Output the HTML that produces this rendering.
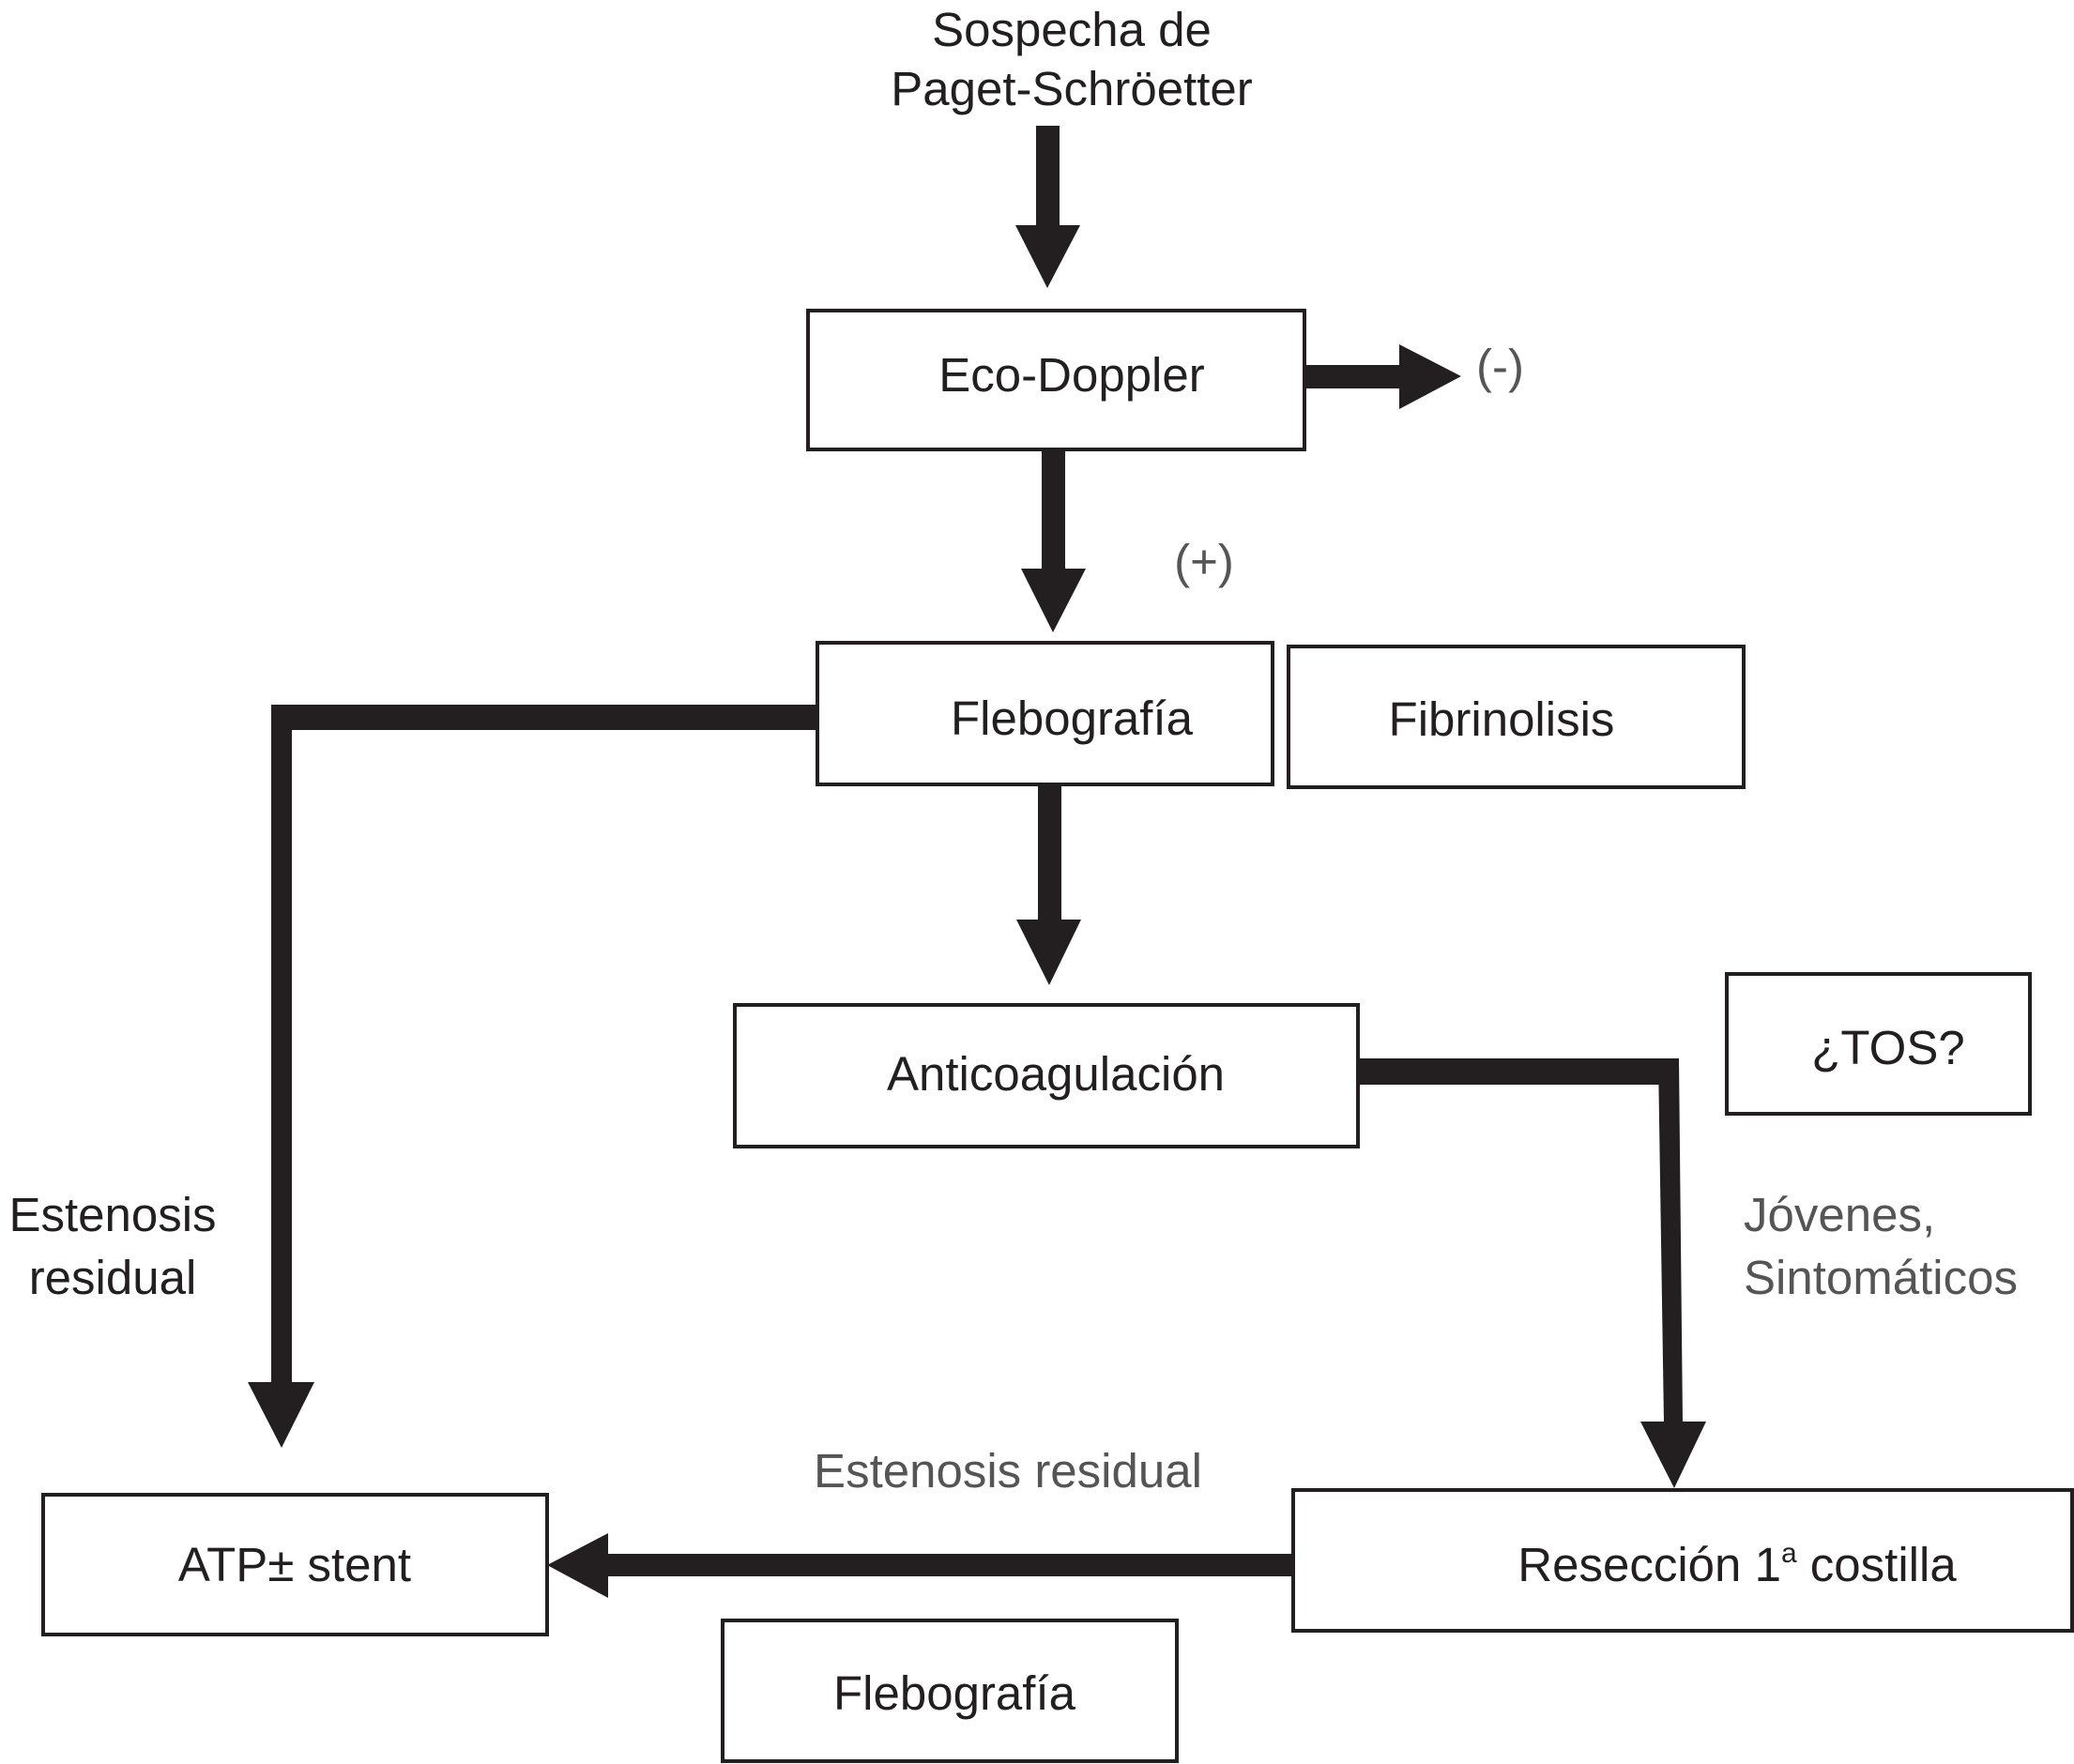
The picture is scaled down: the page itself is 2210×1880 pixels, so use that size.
<!DOCTYPE html>
<html><head><meta charset="utf-8"><style>
html,body{margin:0;padding:0;background:#fff;}
svg{display:block;}
text{font-family:"Liberation Sans",Arial,sans-serif;font-size:51px;}
</style></head><body>
<svg width="2210" height="1880" viewBox="0 0 2210 1880" xmlns="http://www.w3.org/2000/svg">
<g fill="#231f20" text-anchor="middle">
<text x="1142" y="49">Sospecha de</text>
<text x="1142" y="112">Paget-Schröetter</text>
</g>
<!-- arrow 1 -->
<rect x="1104" y="134" width="25" height="108" fill="#231f20"/>
<polygon points="1082,240 1151,240 1116,307" fill="#231f20"/>
<!-- Eco-Doppler box -->
<rect x="861" y="331" width="529" height="148" fill="none" stroke="#231f20" stroke-width="4"/>
<text x="1142" y="417" text-anchor="middle" fill="#231f20">Eco-Doppler</text>
<!-- right arrow -->
<rect x="1390" y="389" width="103" height="25" fill="#231f20"/>
<polygon points="1491,367 1491,436 1557,401" fill="#231f20"/>
<text x="1573" y="408" fill="#555">(-)</text>
<!-- down arrow 2 -->
<rect x="1110" y="479" width="25" height="129" fill="#231f20"/>
<polygon points="1088,606 1157,606 1122,674" fill="#231f20"/>
<text x="1283" y="616" text-anchor="middle" fill="#555">(+)</text>
<!-- Flebografía -->
<rect x="871" y="685" width="485" height="151" fill="none" stroke="#231f20" stroke-width="4"/>
<text x="1142" y="783" text-anchor="middle" fill="#231f20">Flebografía</text>
<!-- Fibrinolisis -->
<rect x="1373" y="689" width="485" height="150" fill="none" stroke="#231f20" stroke-width="4"/>
<text x="1600" y="784" text-anchor="middle" fill="#231f20">Fibrinolisis</text>
<!-- left connector -->
<rect x="289" y="751" width="582" height="27" fill="#231f20"/>
<rect x="289" y="751" width="22" height="724" fill="#231f20"/>
<polygon points="264,1473 335,1473 300,1543" fill="#231f20"/>
<!-- down arrow 3 -->
<rect x="1106" y="836" width="25" height="146" fill="#231f20"/>
<polygon points="1083,980 1152,980 1118,1050" fill="#231f20"/>
<!-- Anticoagulación -->
<rect x="783" y="1071" width="664" height="151" fill="none" stroke="#231f20" stroke-width="4"/>
<text x="1125" y="1162" text-anchor="middle" fill="#231f20">Anticoagulación</text>
<!-- right connector -->
<rect x="1447" y="1128" width="340" height="28" fill="#231f20"/>
<polygon points="1767,1128 1789,1128 1793,1517 1773,1517" fill="#231f20"/>
<polygon points="1748,1515 1818,1515 1784,1586" fill="#231f20"/>
<!-- TOS -->
<rect x="1840" y="1038" width="323" height="149" fill="none" stroke="#231f20" stroke-width="4"/>
<text x="2012" y="1134" text-anchor="middle" fill="#231f20">¿TOS?</text>
<g fill="#555">
<text x="1858" y="1312">Jóvenes,</text>
<text x="1858" y="1379">Sintomáticos</text>
</g>
<g fill="#231f20" text-anchor="middle">
<text x="120" y="1312">Estenosis</text>
<text x="120" y="1379">residual</text>
</g>
<!-- ATP box -->
<rect x="46" y="1593" width="537" height="149" fill="none" stroke="#231f20" stroke-width="4"/>
<text x="314" y="1685" text-anchor="middle" fill="#231f20">ATP± stent</text>
<!-- left arrow -->
<rect x="646" y="1656" width="731" height="24" fill="#231f20"/>
<polygon points="648,1634 648,1703 583,1668" fill="#231f20"/>
<text x="1074" y="1585" text-anchor="middle" fill="#555">Estenosis residual</text>
<!-- Resección -->
<rect x="1378" y="1588" width="830" height="150" fill="none" stroke="#231f20" stroke-width="4"/>
<text x="1851" y="1685" text-anchor="middle" fill="#231f20">Resección 1<tspan font-size="30" dy="-20">a</tspan><tspan dy="20"> costilla</tspan></text>
<!-- Flebografía 2 -->
<rect x="770" y="1727" width="484" height="150" fill="none" stroke="#231f20" stroke-width="4"/>
<text x="1017" y="1822" text-anchor="middle" fill="#231f20">Flebografía</text>
</svg>
</body></html>
